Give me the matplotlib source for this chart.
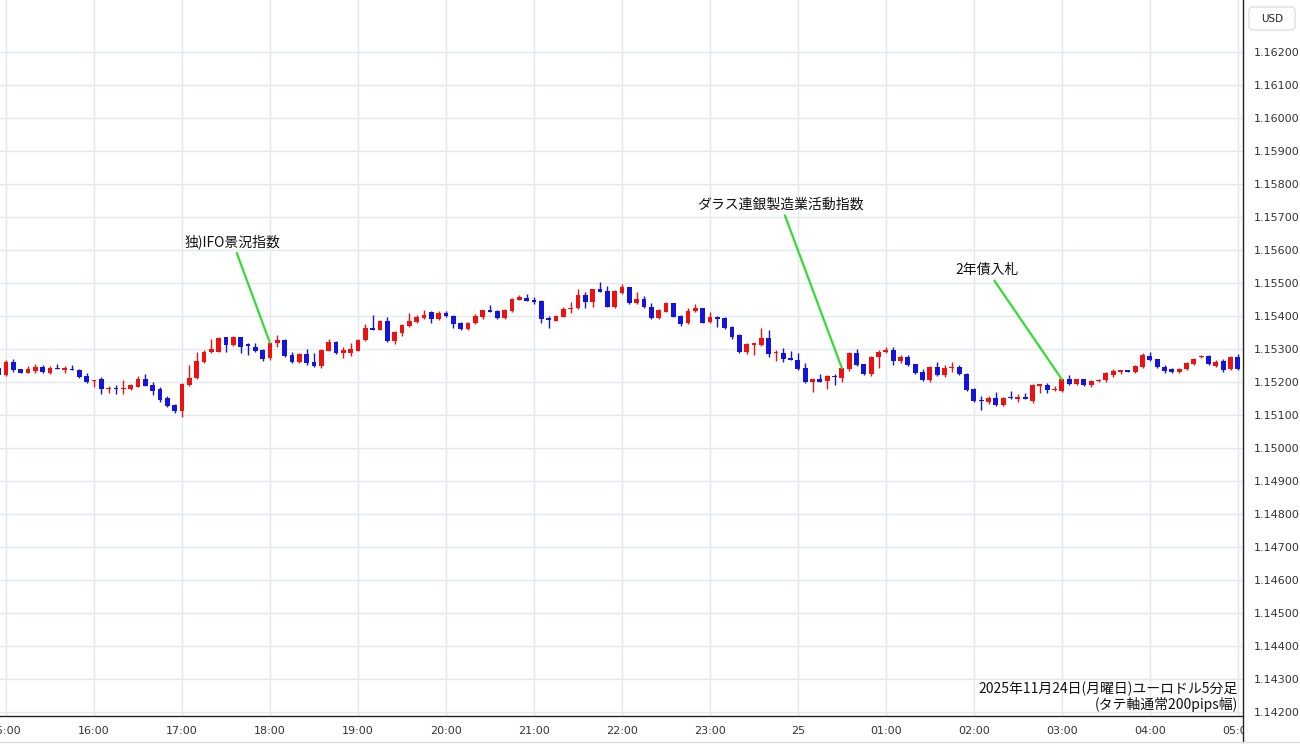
import matplotlib
matplotlib.use("Agg")
import matplotlib.pyplot as plt
from matplotlib.patches import FancyBboxPatch
from matplotlib.lines import Line2D
from matplotlib.transforms import Bbox, TransformedBbox, IdentityTransform
import numpy as np

plt.rcParams['font.family'] = ['Noto Sans CJK JP', 'DejaVu Sans']

# EUR/USD 5 min candles, 2025-11-24 14:55 -> 2025-11-25 05:00
opens = [1.15243, 1.15221, 1.15262, 1.15239, 1.15227, 1.15234, 1.15245, 1.15229, 1.15243, 1.15238, 1.15240,
         1.15237, 1.15218, 1.15203, 1.15208, 1.15179, 1.15182, 1.15179, 1.15180, 1.15186, 1.15208,
         1.15191, 1.15178, 1.15151, 1.15130, 1.15113, 1.15191, 1.15213, 1.15262, 1.15290, 1.15292,
         1.15336, 1.15312, 1.15336, 1.15313, 1.15307, 1.15297, 1.15272, 1.15318, 1.15328, 1.15282,
         1.15260, 1.15284, 1.15262, 1.15249, 1.15295, 1.15322, 1.15289, 1.15289, 1.15295, 1.15328,
         1.15363, 1.15359, 1.15386, 1.15324, 1.15350, 1.15371, 1.15383, 1.15395, 1.15412, 1.15390,
         1.15409, 1.15400, 1.15380, 1.15360, 1.15380, 1.15398, 1.15419, 1.15416, 1.15393, 1.15416,
         1.15450, 1.15454, 1.15449, 1.15446, 1.15395, 1.15386, 1.15398, 1.15422, 1.15424, 1.15464,
         1.15444, 1.15481, 1.15476, 1.15429, 1.15470, 1.15487, 1.15439, 1.15453, 1.15429, 1.15393,
         1.15414, 1.15439, 1.15401, 1.15378, 1.15416, 1.15424, 1.15381, 1.15398, 1.15393, 1.15368,
         1.15343, 1.15292, 1.15312, 1.15312, 1.15333, 1.15287, 1.15289, 1.15272, 1.15267, 1.15242,
         1.15199, 1.15208, 1.15203, 1.15218, 1.15211, 1.15239, 1.15289, 1.15254, 1.15224, 1.15277,
         1.15290, 1.15297, 1.15265, 1.15275, 1.15254, 1.15231, 1.15206, 1.15247, 1.15221, 1.15242,
         1.15245, 1.15224, 1.15178, 1.15145, 1.15139, 1.15153, 1.15130, 1.15155, 1.15150, 1.15154,
         1.15142, 1.15189, 1.15191, 1.15175, 1.15173, 1.15208, 1.15194, 1.15208, 1.15191, 1.15203,
         1.15206, 1.15221, 1.15232, 1.15234, 1.15231, 1.15245, 1.15279, 1.15269, 1.15247, 1.15239,
         1.15230, 1.15239, 1.15255, 1.15275, 1.15279, 1.15249, 1.15265, 1.15239, 1.15275]
highs = [1.15246, 1.15267, 1.15269, 1.15241, 1.15250, 1.15255, 1.15253, 1.15250, 1.15256, 1.15250, 1.15253,
         1.15240, 1.15227, 1.15207, 1.15216, 1.15189, 1.15190, 1.15206, 1.15194, 1.15218, 1.15224,
         1.15201, 1.15186, 1.15158, 1.15134, 1.15196, 1.15252, 1.15292, 1.15297, 1.15330, 1.15336,
         1.15338, 1.15340, 1.15338, 1.15320, 1.15320, 1.15299, 1.15322, 1.15343, 1.15330, 1.15292,
         1.15288, 1.15299, 1.15287, 1.15300, 1.15330, 1.15324, 1.15307, 1.15319, 1.15330, 1.15377,
         1.15403, 1.15388, 1.15396, 1.15355, 1.15376, 1.15409, 1.15404, 1.15419, 1.15415, 1.15416,
         1.15417, 1.15402, 1.15383, 1.15383, 1.15405, 1.15420, 1.15435, 1.15419, 1.15422, 1.15454,
         1.15464, 1.15468, 1.15458, 1.15448, 1.15400, 1.15403, 1.15427, 1.15444, 1.15481, 1.15473,
         1.15483, 1.15504, 1.15492, 1.15478, 1.15498, 1.15489, 1.15473, 1.15460, 1.15439, 1.15421,
         1.15442, 1.15441, 1.15403, 1.15426, 1.15436, 1.15426, 1.15412, 1.15400, 1.15398, 1.15370,
         1.15345, 1.15319, 1.15318, 1.15363, 1.15358, 1.15297, 1.15304, 1.15294, 1.15287, 1.15257,
         1.15210, 1.15224, 1.15220, 1.15224, 1.15243, 1.15290, 1.15299, 1.15256, 1.15279, 1.15297,
         1.15307, 1.15307, 1.15282, 1.15282, 1.15256, 1.15239, 1.15249, 1.15262, 1.15252, 1.15260,
         1.15251, 1.15227, 1.15182, 1.15158, 1.15158, 1.15171, 1.15155, 1.15174, 1.15164, 1.15167,
         1.15195, 1.15195, 1.15196, 1.15188, 1.15210, 1.15221, 1.15210, 1.15210, 1.15206, 1.15208,
         1.15230, 1.15239, 1.15235, 1.15238, 1.15252, 1.15287, 1.15292, 1.15271, 1.15252, 1.15243,
         1.15242, 1.15262, 1.15273, 1.15281, 1.15281, 1.15267, 1.15270, 1.15280, 1.15284]
lows = [1.15218, 1.15219, 1.15231, 1.15226, 1.15226, 1.15228, 1.15228, 1.15224, 1.15239, 1.15228, 1.15236,
        1.15212, 1.15198, 1.15186, 1.15164, 1.15166, 1.15165, 1.15164, 1.15176, 1.15184, 1.15187,
        1.15161, 1.15141, 1.15125, 1.15106, 1.15095, 1.15188, 1.15210, 1.15259, 1.15289, 1.15290,
        1.15292, 1.15310, 1.15287, 1.15282, 1.15290, 1.15265, 1.15267, 1.15307, 1.15275, 1.15258,
        1.15258, 1.15252, 1.15247, 1.15244, 1.15293, 1.15285, 1.15274, 1.15279, 1.15293, 1.15326,
        1.15357, 1.15357, 1.15323, 1.15316, 1.15340, 1.15367, 1.15380, 1.15390, 1.15380, 1.15388,
        1.15398, 1.15363, 1.15358, 1.15358, 1.15376, 1.15390, 1.15412, 1.15390, 1.15391, 1.15414,
        1.15448, 1.15445, 1.15437, 1.15379, 1.15363, 1.15384, 1.15396, 1.15409, 1.15422, 1.15426,
        1.15427, 1.15472, 1.15427, 1.15426, 1.15468, 1.15437, 1.15437, 1.15425, 1.15390, 1.15391,
        1.15412, 1.15396, 1.15371, 1.15376, 1.15414, 1.15378, 1.15379, 1.15368, 1.15361, 1.15332,
        1.15287, 1.15286, 1.15282, 1.15310, 1.15277, 1.15264, 1.15260, 1.15266, 1.15238, 1.15197,
        1.15171, 1.15200, 1.15178, 1.15191, 1.15201, 1.15234, 1.15249, 1.15222, 1.15219, 1.15242,
        1.15288, 1.15252, 1.15257, 1.15250, 1.15225, 1.15203, 1.15201, 1.15219, 1.15216, 1.15230,
        1.15222, 1.15172, 1.15140, 1.15115, 1.15134, 1.15128, 1.15128, 1.15150, 1.15140, 1.15149,
        1.15138, 1.15166, 1.15168, 1.15174, 1.15169, 1.15192, 1.15192, 1.15189, 1.15184, 1.15199,
        1.15199, 1.15214, 1.15224, 1.15231, 1.15229, 1.15243, 1.15265, 1.15243, 1.15229, 1.15228,
        1.15228, 1.15237, 1.15253, 1.15273, 1.15252, 1.15247, 1.15232, 1.15237, 1.15237]
closes = [1.15221, 1.15262, 1.15237, 1.15227, 1.15239, 1.15247, 1.15230, 1.15243, 1.15240, 1.15240, 1.15237,
          1.15214, 1.15201, 1.15206, 1.15179, 1.15182, 1.15179, 1.15183, 1.15190, 1.15208, 1.15189,
          1.15174, 1.15146, 1.15128, 1.15112, 1.15194, 1.15213, 1.15265, 1.15291, 1.15299, 1.15333,
          1.15312, 1.15336, 1.15307, 1.15310, 1.15295, 1.15270, 1.15319, 1.15328, 1.15279, 1.15260,
          1.15285, 1.15257, 1.15249, 1.15297, 1.15322, 1.15287, 1.15296, 1.15299, 1.15328, 1.15363,
          1.15359, 1.15386, 1.15326, 1.15352, 1.15374, 1.15386, 1.15398, 1.15403, 1.15391, 1.15409,
          1.15400, 1.15376, 1.15360, 1.15380, 1.15400, 1.15419, 1.15414, 1.15395, 1.15419, 1.15452,
          1.15457, 1.15447, 1.15442, 1.15390, 1.15388, 1.15401, 1.15422, 1.15426, 1.15464, 1.15444,
          1.15481, 1.15474, 1.15429, 1.15475, 1.15487, 1.15439, 1.15453, 1.15427, 1.15393, 1.15419,
          1.15439, 1.15398, 1.15375, 1.15417, 1.15424, 1.15380, 1.15398, 1.15391, 1.15363, 1.15338,
          1.15292, 1.15315, 1.15318, 1.15333, 1.15284, 1.15292, 1.15270, 1.15267, 1.15240, 1.15199,
          1.15209, 1.15201, 1.15219, 1.15214, 1.15242, 1.15289, 1.15252, 1.15224, 1.15277, 1.15292,
          1.15297, 1.15265, 1.15275, 1.15252, 1.15227, 1.15206, 1.15247, 1.15221, 1.15242, 1.15246,
          1.15224, 1.15176, 1.15143, 1.15142, 1.15153, 1.15130, 1.15153, 1.15151, 1.15154, 1.15150,
          1.15191, 1.15193, 1.15176, 1.15179, 1.15208, 1.15194, 1.15208, 1.15191, 1.15204, 1.15206,
          1.15228, 1.15234, 1.15234, 1.15232, 1.15249, 1.15282, 1.15267, 1.15245, 1.15234, 1.15230,
          1.15240, 1.15257, 1.15271, 1.15279, 1.15254, 1.15260, 1.15237, 1.15275, 1.15239]

# hour labels (candle index 1 = 15:00)
hour_labels = ['15:00', '16:00', '17:00', '18:00', '19:00', '20:00', '21:00', '22:00',
               '23:00', '25', '01:00', '02:00', '03:00', '04:00', '05:00']
price_ticks = [1.142 + 0.001 * k for k in range(21)]

# economic events: label, candle index
event_names = ['独)IFO景況指数', 'ダラス連銀製造業活動指数', '2年債入札']
event_idx = [37, 115, 145]
event_offsets = [(-27, 73), (-44, 118), (-54, 79)]  # text position, points

UP = '#ee1111'
DOWN = '#1414dc'
GRID = '#e2e8ef'
GREEN = '#33dd33'

o = np.array(opens)
h = np.array(highs)
l = np.array(lows)
c = np.array(closes)
x = np.arange(len(o))
cols = np.where(c >= o, UP, DOWN)

fig = plt.figure(figsize=(13, 7.45), dpi=100)
ax = fig.add_axes([0, 29 / 745, 1243 / 1300, 716 / 745])

ax.vlines(x, l, h, colors=cols, linewidth=1.0, zorder=3)
body = np.maximum(np.abs(c - o), 0.00004)
ax.bar(x, body, bottom=np.minimum(o, c), width=0.66, color=cols, linewidth=0, zorder=4)

ax.set_xlim(0.18, 169.7)
ax.set_ylim(1.14187, 1.16359)

hour_pos = [1 + 12 * k for k in range(len(hour_labels))]
ax.set_xticks(hour_pos)
ax.set_xticklabels(hour_labels, fontsize=8, color='#333333', family='DejaVu Sans')
ax.set_yticks(price_ticks)
ax.set_yticklabels(['%.5f' % p for p in price_ticks], fontsize=8, color='#333333', family='DejaVu Sans')
ax.yaxis.tick_right()
ax.tick_params(axis='x', length=0, pad=7)
ax.tick_params(axis='y', length=0, pad=8)
ax.grid(True, color=GRID, linewidth=1.0, zorder=0)
ax.set_axisbelow(True)

for s in ['top', 'left', 'right']:
    ax.spines[s].set_visible(False)
ax.spines['bottom'].set_color('#222222')
ax.spines['bottom'].set_linewidth(1.0)

# right price-scale border runs down to the bottom
fig.add_artist(Line2D([1243 / 1300, 1243 / 1300], [3 / 745, 1], color='#222222', lw=1.0))
fig.add_artist(Line2D([0, 1], [3 / 745, 3 / 745], color='#dddddd', lw=1.0))

# clip time labels at the price scale
clip = TransformedBbox(Bbox([[0, 0], [1243 / 1300, 1]]), fig.transFigure)
for lab in ax.get_xticklabels():
    lab.set_clip_box(clip)
    lab.set_clip_on(True)

for name, idx, off in zip(event_names, event_idx, event_offsets):
    ax.annotate(name, xy=(idx, c[idx]), xytext=off, textcoords='offset points',
                ha='center', va='center', fontsize=10, color='#111111',
                arrowprops=dict(arrowstyle='-', color=GREEN, lw=1.6, shrinkA=1, shrinkB=0),
                annotation_clip=False, zorder=6)

fig.text(1238 / 1300, 1 - 689 / 745, '2025年11月24日(月曜日)ユーロドル5分足',
         ha='right', va='center', fontsize=10, color='#111111')
fig.text(1238 / 1300, 1 - 704 / 745, '(タテ軸通常200pips幅)',
         ha='right', va='center', fontsize=10, color='#111111')

# USD box
box = FancyBboxPatch((1249, 715), 46, 23, boxstyle='round,pad=0,rounding_size=4',
                     transform=IdentityTransform(), fc='white', ec='#d6d6d6', lw=0.8)
fig.patches.append(box)
fig.text(1272 / 1300, 1 - 19 / 745, 'USD', ha='center', va='center', fontsize=7.5,
         color='#222222', family='DejaVu Sans')

fig.savefig('out.png', dpi=100)
